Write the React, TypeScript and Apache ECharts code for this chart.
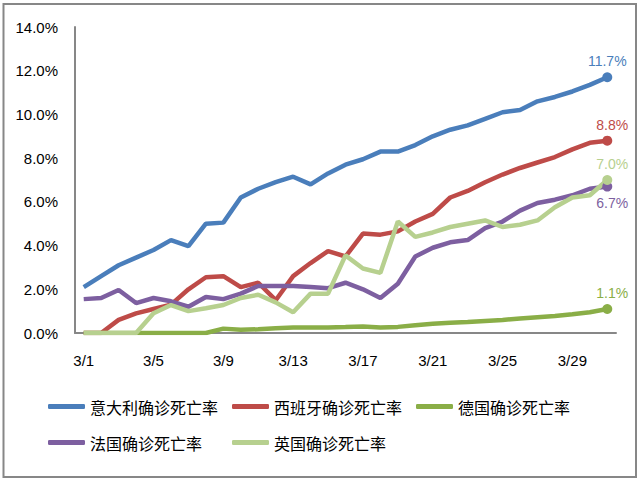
import React, { useEffect, useRef } from "react";
import * as echarts from "echarts";

const dates = [
  "3/1", "3/2", "3/3", "3/4", "3/5", "3/6", "3/7", "3/8", "3/9", "3/10",
  "3/11", "3/12", "3/13", "3/14", "3/15", "3/16", "3/17", "3/18", "3/19", "3/20",
  "3/21", "3/22", "3/23", "3/24", "3/25", "3/26", "3/27", "3/28", "3/29", "3/30", "3/31",
];

const yTicks = [0, 2, 4, 6, 8, 10, 12, 14];

const italy = [
  2.1, 2.6, 3.1, 3.45, 3.8, 4.25, 3.97, 5.0, 5.05, 6.2,
  6.6, 6.9, 7.15, 6.8, 7.3, 7.7, 7.95, 8.3, 8.3, 8.6,
  9.0, 9.3, 9.5, 9.8, 10.1, 10.2, 10.6, 10.8, 11.05, 11.35, 11.7,
];
const spain = [
  0, 0, 0.6, 0.9, 1.1, 1.3, 2.0, 2.55, 2.6, 2.1,
  2.3, 1.5, 2.6, 3.2, 3.75, 3.5, 4.55, 4.5, 4.65, 5.1,
  5.45, 6.2, 6.5, 6.9, 7.25, 7.55, 7.8, 8.05, 8.4, 8.7, 8.8,
];
const germany = [
  0, 0, 0, 0, 0, 0, 0, 0, 0.2, 0.15,
  0.17, 0.22, 0.25, 0.25, 0.25, 0.27, 0.3, 0.25, 0.28, 0.35,
  0.42, 0.47, 0.5, 0.55, 0.6, 0.66, 0.72, 0.78, 0.86, 0.95, 1.1,
];
const france = [
  1.55, 1.6, 1.97, 1.37, 1.6, 1.45, 1.2, 1.65, 1.55, 1.8,
  2.15, 2.15, 2.15, 2.1, 2.05, 2.3, 2.0, 1.6, 2.25, 3.5,
  3.9, 4.15, 4.25, 4.8, 5.1, 5.6, 5.95, 6.1, 6.3, 6.6, 6.7,
];
const uk = [
  0, 0, 0, 0, 0.9, 1.28, 1.0, 1.13, 1.28, 1.6,
  1.75, 1.4, 0.95, 1.8, 1.8, 3.55, 2.95, 2.75, 5.1, 4.4,
  4.6, 4.85, 5.0, 5.15, 4.85, 4.95, 5.15, 5.75, 6.2, 6.3, 7.0,
];

const names = [
  "意大利确诊死亡率",
  "西班牙确诊死亡率",
  "德国确诊死亡率",
  "法国确诊死亡率",
  "英国确诊死亡率",
];
const colors = ["#4A7EBB", "#BE4B48", "#8AAE47", "#7D5FA0", "#B7D08F"];

function makeSeries(
  name: string,
  values: number[],
  color: string,
  position: string,
  offset: number[]
) {
  const last = values.length - 1;
  return {
    name,
    type: "line",
    symbol: "none",
    lineStyle: { width: 4.5, color },
    itemStyle: { color },
    data: values.map((v, i) =>
      i === last
        ? {
            value: v,
            symbol: "circle",
            symbolSize: 10,
            label: {
              show: true,
              position,
              offset,
              distance: 4,
              formatter: v.toFixed(1) + "%",
              color,
              fontSize: 14,
              fontFamily: "Liberation Sans, Arial, sans-serif",
            },
          }
        : v
    ),
  };
}

export default function App() {
  const ref = useRef<HTMLDivElement>(null);
  useEffect(() => {
    if (!ref.current) return;
    const chart = echarts.init(ref.current, null, { renderer: "svg" });
    chart.setOption({
      animation: false,
      backgroundColor: "#ffffff",
      graphic: [
        {
          type: "rect",
          shape: { x: 3.5, y: 4, width: 632.5, height: 473 },
          style: { fill: "none", stroke: "#878787", lineWidth: 2 },
          silent: true,
        },
      ],
      grid: { left: 75, right: 24, top: 27, bottom: 147 },
      legend: {
        left: 48,
        top: 391,
        width: 570,
        padding: 0,
        itemGap: 5,
        itemWidth: 37,
        itemHeight: 5,
        icon: "roundRect",
        data: names,
        textStyle: {
          fontFamily: "Noto Sans CJK SC",
          fontSize: 16,
          color: "#000000",
          width: 137,
          height: 31,
          lineHeight: 31,
        },
      },
      xAxis: {
        type: "category",
        data: dates,
        boundaryGap: true,
        axisLine: { lineStyle: { color: "#878787", width: 2 } },
        axisTick: { show: false },
        axisLabel: {
          interval: 3,
          margin: 20,
          color: "#000000",
          fontSize: 15,
          fontFamily: "Liberation Sans, Arial, sans-serif",
        },
        splitLine: { show: false },
      },
      yAxis: {
        type: "value",
        min: yTicks[0],
        max: yTicks[yTicks.length - 1],
        interval: 2,
        axisLine: { show: true, lineStyle: { color: "#878787", width: 2 } },
        axisTick: { show: false },
        splitLine: { show: false },
        axisLabel: {
          margin: 17,
          color: "#000000",
          fontSize: 15,
          fontFamily: "Liberation Sans, Arial, sans-serif",
          formatter: (v: number) => v.toFixed(1) + "%",
        },
      },
      series: [
        makeSeries(names[0], italy, colors[0], "top", [0, 0]),
        makeSeries(names[1], spain, colors[1], "top", [5, 0]),
        makeSeries(names[2], germany, colors[2], "top", [5, 0]),
        makeSeries(names[3], france, colors[3], "bottom", [5, 0]),
        makeSeries(names[4], uk, colors[4], "top", [5, 0]),
      ],
    });
    return () => chart.dispose();
  }, []);
  return (
    <div
      ref={ref}
      style={{ position: "fixed", left: 0, top: 0, width: 640, height: 480 }}
    />
  );
}
